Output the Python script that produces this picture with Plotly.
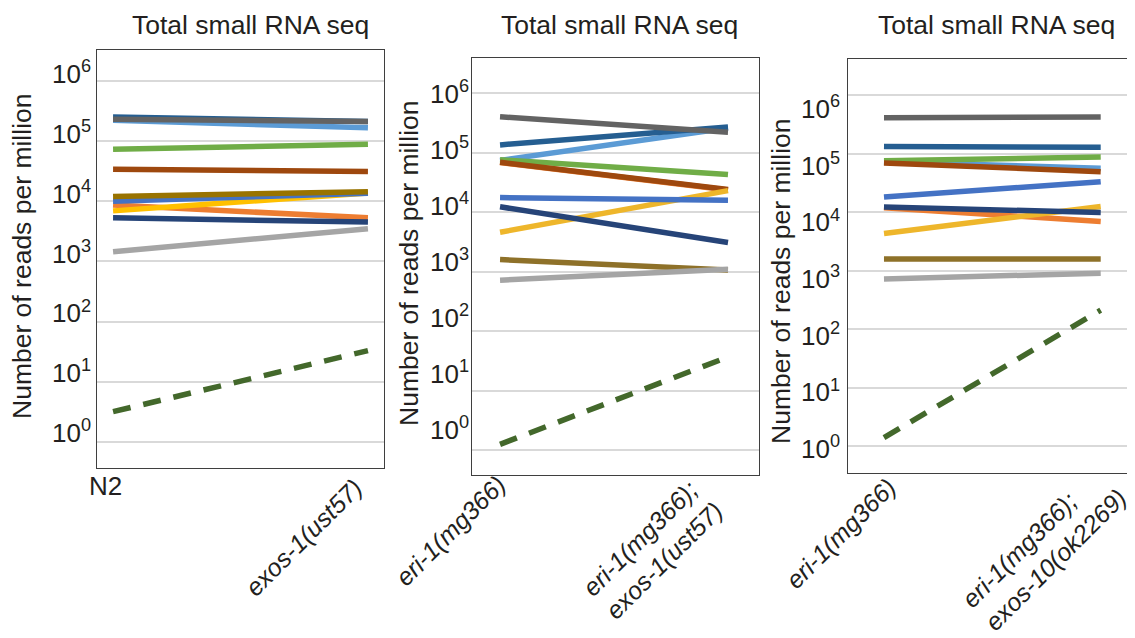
import plotly.graph_objects as go

# ---------------- data ----------------
panel1_categories = ["N2", "exos-1(ust57)"]
panel2_categories = ["eri-1(mg366)", "eri-1(mg366); exos-1(ust57)"]
panel3_categories = ["eri-1(mg366)", "eri-1(mg366); exos-10(ok2269)"]

series_names = ["orange", "light_blue", "dark_blue", "green", "brown", "dark_gray",
                "yellow", "mid_blue", "olive", "navy", "light_gray", "dashed_green"]

panel1_values = {
    "orange":       [8.6e3, 5.3e3],
    "light_blue":   [2.2e5, 1.65e5],
    "dark_blue":    [2.5e5, 2.1e5],
    "green":        [7.3e4, 8.8e4],
    "brown":        [3.4e4, 3.1e4],
    "dark_gray":    [2.3e5, 2.1e5],
    "yellow":       [6.9e3, 1.37e4],
    "mid_blue":     [1.0e4, 1.35e4],
    "olive":        [1.2e4, 1.44e4],
    "navy":         [5.3e3, 4.5e3],
    "light_gray":   [1.45e3, 3.5e3],
    "dashed_green": [3.2, 33],
}
panel2_values = {
    "orange":       [6.8e4, 2.35e4],
    "light_blue":   [7.4e4, 2.6e5],
    "dark_blue":    [1.35e5, 2.7e5],
    "green":        [7.6e4, 4.3e4],
    "brown":        [6.9e4, 2.4e4],
    "dark_gray":    [4.0e5, 2.2e5],
    "yellow":       [4.6e3, 2.3e4],
    "mid_blue":     [1.76e4, 1.58e4],
    "olive":        [1.6e3, 1.07e3],
    "navy":         [1.23e4, 3.1e3],
    "light_gray":   [7.2e2, 1.1e3],
    "dashed_green": [1.26, 37],
}
panel3_values = {
    "orange":       [1.18e4, 6.9e3],
    "light_blue":   [7.2e4, 5.6e4],
    "dark_blue":    [1.32e5, 1.28e5],
    "green":        [7.5e4, 8.7e4],
    "brown":        [6.9e4, 4.9e4],
    "dark_gray":    [4.1e5, 4.2e5],
    "yellow":       [4.3e3, 1.24e4],
    "mid_blue":     [1.8e4, 3.3e4],
    "olive":        [1.58e3, 1.58e3],
    "navy":         [1.22e4, 9.8e3],
    "light_gray":   [7.2e2, 9.0e2],
    "dashed_green": [1.4, 210],
}

y_tick_values = [1, 10, 100, 1e3, 1e4, 1e5, 1e6]
y_tick_labels = ["10<sup>0</sup>", "10<sup>1</sup>", "10<sup>2</sup>", "10<sup>3</sup>",
                 "10<sup>4</sup>", "10<sup>5</sup>", "10<sup>6</sup>"]

panel_title = "Total small RNA seq"
y_title = "Number of reads per million"

# ---------------- styles ----------------
colors_p1 = {
    "orange": "#ED7D31", "light_blue": "#5B9BD5", "dark_blue": "#255E91",
    "green": "#70AD47", "brown": "#9E480E", "dark_gray": "#636363",
    "yellow": "#FFC000", "mid_blue": "#4472C4", "olive": "#997300",
    "navy": "#264478", "light_gray": "#A5A5A5", "dashed_green": "#43682B",
}
colors_p23 = dict(colors_p1, yellow="#EEB62B", olive="#8E7129")

FONT = "Liberation Sans, Arial, sans-serif"
TXT = "#231F20"
WIN_W, WIN_H = 1135, 638
OFF = 8                      # page body margin
W, H = WIN_W - OFF, WIN_H - OFF


def px_x(p):
    return (p - OFF) / W


def px_y(p):
    return 1 - (p - OFF) / H


# layout geometry in window pixels
boxes = [(97, 384, 50, 468), (472, 759, 58, 475), (848, 1133, 59, 473)]
x_ranges = [[-0.063, 1.063], [-0.123, 1.136], [-0.166, 1.149]]
y_ranges = [[-0.43, 6.51], [-0.415, 6.59], [-0.46, 6.615]]
label_ranges = [[-0.585, 6.401], [-0.802, 6.633], [-0.4235, 6.882]]
label_standoff = [5, 2, 7]
title_cx = [250, 619, 996]
ytitle_pos = [(22, 256), (409, 263), (781, 281)]
# x-label block centres: (shift from tick in px, centre y px)
xlabel_pos = [[None, (-64, 537)], [(-50, 531), (-76, 549)], [(-43, 533), (-57, 548)]]

fig = go.Figure()

panels = [
    (panel1_categories, panel1_values, colors_p1),
    (panel2_categories, panel2_values, colors_p23),
    (panel3_categories, panel3_values, colors_p23),
]

for i, (cats, vals, cols) in enumerate(panels):
    xa = "x" if i == 0 else f"x{i+1}"
    ya = "y" if i == 0 else f"y{i+1}"
    for name in series_names:
        dashed = name == "dashed_green"
        fig.add_trace(go.Scatter(
            x=[0, 1], y=vals[name], mode="lines", name=name,
            line=dict(color=cols[name], width=5.5,
                      dash="18px,13px" if dashed else "solid"),
            xaxis=xa, yaxis=ya, showlegend=False, hoverinfo="skip",
        ))
    # empty trace so that the tick-label axis of this panel is drawn
    fig.add_trace(go.Scatter(x=[], y=[], xaxis=xa, yaxis=f"y{i+4}",
                             showlegend=False, hoverinfo="skip"))


def label_text(cat):
    parts = [p.strip() for p in cat.split(";")]
    if len(parts) == 1:
        return f"<i>{parts[0]}</i>"
    return f"<i>{parts[0]};</i><br><i>{parts[1]}</i>"


layout = dict(
    template="none",
    width=W, height=H, margin=dict(l=0, r=0, t=0, b=0, autoexpand=False),
    paper_bgcolor="white", plot_bgcolor="white",
    font=dict(family=FONT, color=TXT, size=26),
)

annotations = []
all_cats = [panel1_categories, panel2_categories, panel3_categories]
for i, ((l, r, t, b), cats) in enumerate(zip(boxes, all_cats)):
    suffix = "" if i == 0 else str(i + 1)
    lab_suffix = str(i + 4)
    layout["xaxis" + suffix] = dict(
        domain=[px_x(l), px_x(r)], range=x_ranges[i], anchor="y" + suffix,
        tickmode="array", tickvals=[0, 1], showticklabels=False,
        automargin=False, showgrid=False, zeroline=False, showline=True,
        mirror=True, linecolor="#3F3F3F", linewidth=1.2, ticks="",
    )
    layout["yaxis" + suffix] = dict(
        domain=[px_y(b), px_y(t)], type="log", range=y_ranges[i],
        anchor="x" + suffix, tickmode="array", tickvals=y_tick_values,
        showticklabels=False, showgrid=True, gridcolor="#D9D9D9", gridwidth=1.5,
        zeroline=False, showline=True, mirror=True, linecolor="#3F3F3F",
        linewidth=1.2, ticks="", automargin=False,
    )
    # label axis (tick labels as printed in the original figure)
    layout["yaxis" + lab_suffix] = dict(
        overlaying="y" + suffix, anchor="x" + suffix, side="left",
        type="log", range=label_ranges[i], tickmode="array",
        tickvals=y_tick_values, ticktext=y_tick_labels,
        tickfont=dict(size=26, family=FONT, color=TXT),
        showgrid=False, zeroline=False, showline=False, ticks="",
        ticklabelstandoff=label_standoff[i], automargin=False,
    )
    annotations.append(dict(
        text=panel_title, xref="paper", yref="paper",
        x=px_x(title_cx[i]), y=px_y(25),
        xanchor="center", yanchor="middle", showarrow=False,
        font=dict(size=26.5, family=FONT, color=TXT),
    ))
    annotations.append(dict(
        text=y_title, xref="paper", yref="paper", textangle=-90,
        x=px_x(ytitle_pos[i][0]), y=px_y(ytitle_pos[i][1]),
        xanchor="center", yanchor="middle", showarrow=False,
        font=dict(size=26.5, family=FONT, color=TXT),
    ))
    for k, cat in enumerate(cats):
        pos = xlabel_pos[i][k]
        if pos is None:
            continue
        annotations.append(dict(
            text=label_text(cat), xref="x" + suffix, yref="paper",
            x=k, xshift=pos[0], y=px_y(pos[1]), textangle=-45,
            xanchor="center", yanchor="middle", align="left", showarrow=False,
            font=dict(size=25, family=FONT, color=TXT),
        ))

# N2 label (horizontal) under the first category of panel 1
annotations.append(dict(
    text=panel1_categories[0], xref="x", yref="paper", x=0, xshift=-8,
    y=px_y(486), xanchor="center", yanchor="middle", showarrow=False,
    font=dict(size=26, family=FONT, color=TXT),
))

layout["annotations"] = annotations
fig.update_layout(**layout)

fig.write_html("out.html")
